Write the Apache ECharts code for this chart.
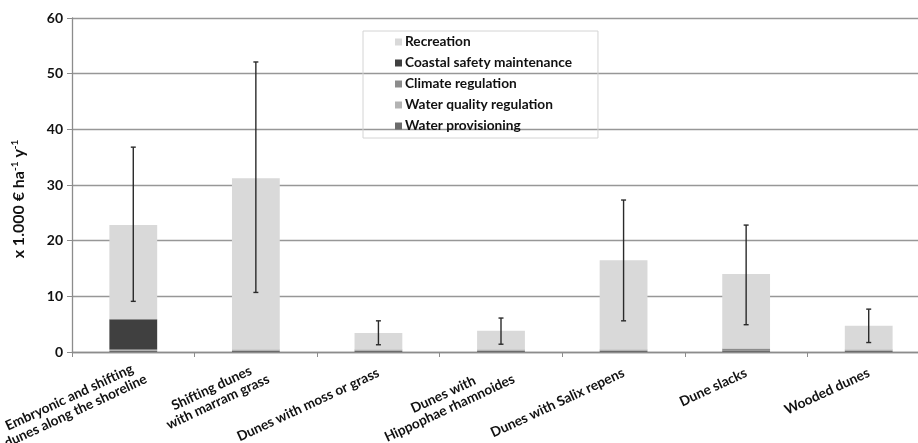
<!DOCTYPE html>
<html>
<head>
<meta charset="utf-8">
<script src="https://cdn.jsdelivr.net/npm/echarts@6/dist/echarts.min.js"></script>
<style>html,body{margin:0;padding:0;background:#fff}#c{width:918px;height:443px}</style>
</head>
<body>
<div id="c"></div>
<script>
var categories = [
  'Embryonic and shifting\ndunes along the shoreline',
  'Shifting dunes\nwith marram grass',
  'Dunes with moss or grass',
  'Dunes with\nHippophae rhamnoides',
  'Dunes with Salix repens',
  'Dune slacks',
  'Wooded dunes'
];
var waterProvisioning = [0.2, 0.2, 0.2, 0.2, 0.2, 0.3, 0.2];
var waterQuality      = [0.05, 0.05, 0.05, 0.05, 0.05, 0.05, 0.05];
var climateRegulation = [0.2, 0.2, 0.2, 0.2, 0.2, 0.3, 0.2];
var coastalSafety     = [5.45, 0, 0, 0, 0, 0, 0];
var recreation        = [16.9, 30.75, 2.95, 3.35, 16.05, 13.35, 4.25];
var errorHigh = [36.8, 52.1, 5.6, 6.1, 27.3, 22.8, 7.7];
var errorLow  = [9.1, 10.7, 1.3, 1.4, 5.6, 4.9, 1.7];
var yTicks = [0, 10, 20, 30, 40, 50, 60];

var FONT = 'Lato';
var chart = echarts.init(document.getElementById('c'));

var xData = categories.map(function (c) {
  var item = { value: c };
  if (c.indexOf('\n') >= 0) item.textStyle = { padding: [7, -9, 0, 0] };
  return item;
});

var errData = categories.map(function (c, i) { return [i, errorLow[i], errorHigh[i]]; });

function barSeries(name, data, color) {
  return {
    name: name, type: 'bar', stack: 'total', data: data,
    barWidth: '39%', itemStyle: { color: color }, emphasis: { disabled: true }
  };
}

chart.setOption({
  animation: false,
  grid: { left: 72, right: -12, top: 18, bottom: 91, containLabel: false, outerBoundsMode: 'none' },
  legend: {
    orient: 'vertical', left: 363, top: 31,
    padding: [4, 26, 5, 32], itemGap: 7, itemWidth: 7, itemHeight: 7,
    borderColor: '#d4d4d4', borderWidth: 1,
    icon: 'rect',
    textStyle: { fontFamily: FONT, fontWeight: 'bold', fontSize: 13.7, color: '#111', lineHeight: 14, padding: [0, 0, 0, -2] },
    data: ['Recreation', 'Coastal safety maintenance', 'Climate regulation', 'Water quality regulation', 'Water provisioning']
  },
  xAxis: {
    type: 'category', data: xData,
    axisLine: { lineStyle: { color: '#8c8c8c', width: 1.3 } },
    axisTick: { show: true, length: 5, lineStyle: { color: '#8c8c8c' } },
    axisLabel: {
      interval: 0, rotate: 25, margin: 20,
      formatter: function (v) { return v.split('\n').map(function (l) { return '{c|' + l + '}'; }).join('\n'); },
      rich: { c: { align: 'center', fontFamily: FONT, fontWeight: 'bold', fontSize: 13.7, color: '#111', lineHeight: 15 } }
    }
  },
  yAxis: {
    type: 'value', min: yTicks[0], max: yTicks[yTicks.length - 1], interval: 10,
    name: '{t|x 1.000 € ha}{s|-1}{t| y}{s|-1}',
    nameLocation: 'middle', nameGap: 44, nameRotate: 90,
    nameTextStyle: {
      padding: [0, 28, 0, 0],
      rich: {
        t: { fontFamily: FONT, fontWeight: 'bold', fontSize: 16, color: '#111' },
        s: { fontFamily: FONT, fontWeight: 'bold', fontSize: 10, color: '#111', verticalAlign: 'top', padding: [0, 0, 8, 0] }
      }
    },
    axisLine: { show: true, lineStyle: { color: '#8c8c8c', width: 1.3 } },
    axisTick: { show: true, length: 5, lineStyle: { color: '#8c8c8c' } },
    splitLine: { lineStyle: { color: '#979797', width: 1.3 } },
    axisLabel: { margin: 9, fontFamily: FONT, fontWeight: 'bold', fontSize: 14, color: '#111' }
  },
  series: [
    barSeries('Water provisioning', waterProvisioning, '#6b6b6b'),
    barSeries('Water quality regulation', waterQuality, '#b3b3b3'),
    barSeries('Climate regulation', climateRegulation, '#8c8c8c'),
    barSeries('Coastal safety maintenance', coastalSafety, '#404040'),
    barSeries('Recreation', recreation, '#d9d9d9'),
    {
      type: 'custom', name: 'error', data: errData, z: 10,
      renderItem: function (params, api) {
        var x = api.value(0);
        var lo = api.coord([x, api.value(1)]);
        var hi = api.coord([x, api.value(2)]);
        var cap = 2.5;
        var st = { stroke: '#2a2a2a', lineWidth: 1.4 };
        return {
          type: 'group',
          children: [
            { type: 'line', shape: { x1: lo[0], y1: lo[1], x2: hi[0], y2: hi[1] }, style: st },
            { type: 'line', shape: { x1: lo[0] - cap, y1: lo[1], x2: lo[0] + cap, y2: lo[1] }, style: st },
            { type: 'line', shape: { x1: hi[0] - cap, y1: hi[1], x2: hi[0] + cap, y2: hi[1] }, style: st }
          ]
        };
      }
    }
  ]
});
</script>
</body>
</html>
